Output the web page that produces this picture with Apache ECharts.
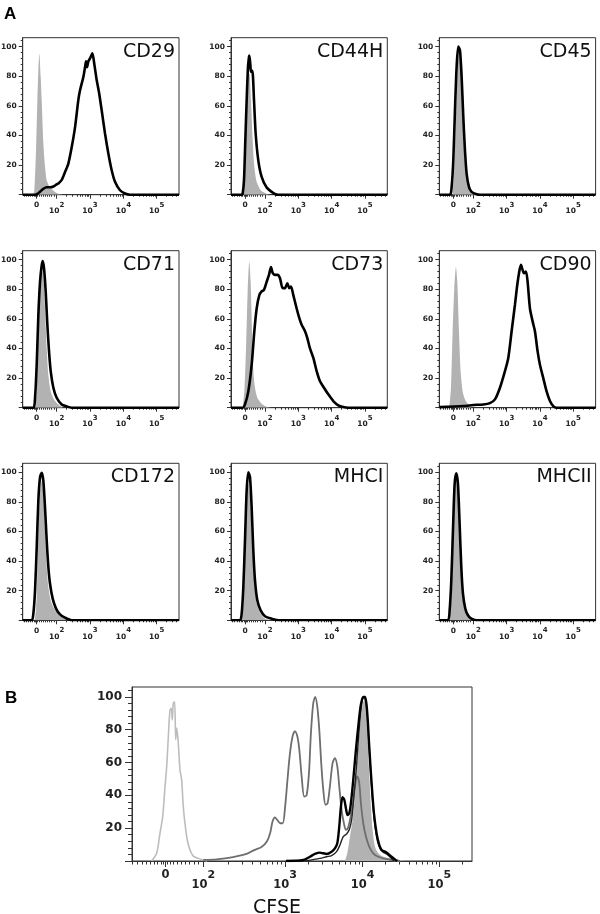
<!DOCTYPE html>
<html><head><meta charset="utf-8">
<script src="https://cdn.jsdelivr.net/npm/echarts@6/dist/echarts.min.js"></script>
<style>html,body{margin:0;padding:0;background:#fff}#c{width:600px;height:914px}</style>
</head><body><div id="c"></div>
<script>
// ---------- labels / ticks ----------
const panelNames = ['CD29', 'CD44H', 'CD45', 'CD71', 'CD73', 'CD90', 'CD172', 'MHCI', 'MHCII'];
const xTickLabels = ['0', '10^2', '10^3', '10^4', '10^5'];
const yTickLabels = [20, 40, 60, 80, 100];
// x positions are in display (decade) units of the biexponential axis
const xTickPosA = [1.4, 2, 3, 4, 5];
const xTickPosB = [1.52, 2, 3.04, 4.025, 5];
const xRangeA = [0.98, 5.67];
const xRangeB = [1.094, 5.415];
const yMax = 106;

// ---------- panel A data: [display position, % of max] ----------
const controlCD29 = [[1.30,0],[1.33,3],[1.38,30],[1.42,64],[1.45,84],[1.48,95.4],[1.52,79.6],[1.55,63.9],[1.60,34.6],[1.65,18.8],[1.70,9.8],[1.80,4.8],[1.95,1.9],[2.10,0.3],[2.20,0]];
const stainCD29 = [[0.98,0],[1.35,0],[1.45,1],[1.50,2],[1.60,4],[1.70,5],[1.80,5],[1.90,5.5],[2.00,7],[2.05,7.5],[2.15,10],[2.20,12.5],[2.30,18],[2.35,21],[2.45,32],[2.55,45.5],[2.65,64],[2.70,70.5],[2.80,79.5],[2.85,86],[2.88,90],[2.91,86],[2.95,90],[3.00,92],[3.07,95.4],[3.13,88],[3.20,77.4],[3.27,69],[3.35,57],[3.45,41.3],[3.55,27.8],[3.65,16.5],[3.75,8.7],[3.90,3],[4.05,0.8],[4.20,0],[5.67,0]];
const controlCD44H = [[1.33,0],[1.38,23],[1.43,57],[1.48,79.6],[1.53,82],[1.58,63.9],[1.63,36.9],[1.68,18.9],[1.75,8.8],[1.88,2.9],[2.05,0.7],[2.15,0]];
const stainCD44H = [[0.98,0],[1.30,0],[1.33,0.8],[1.37,9.8],[1.41,37],[1.45,63.9],[1.49,86.4],[1.52,93],[1.53,94],[1.56,88],[1.58,83],[1.62,83.6],[1.67,63.9],[1.72,41.3],[1.80,23],[1.90,12],[2.05,4.8],[2.20,1.9],[2.30,0.5],[2.40,0],[5.67,0]];
const controlCD45 = [[1.38,0],[1.42,14.3],[1.47,45.6],[1.52,79.6],[1.57,96.3],[1.62,88.3],[1.67,63.9],[1.72,34.6],[1.77,16.5],[1.85,5.3],[1.95,1.2],[2.05,0]];
const stainCD45 = [[0.98,0],[1.30,0],[1.35,5.3],[1.40,23.3],[1.45,57],[1.50,86.4],[1.55,100],[1.60,97.6],[1.65,79.6],[1.70,52.6],[1.75,30],[1.80,14.3],[1.87,5.3],[1.95,1.9],[2.10,0.3],[2.20,0],[5.67,0]];
const controlCD71 = [[1.35,0],[1.40,11],[1.45,51.6],[1.50,78.5],[1.56,92],[1.60,89.7],[1.65,67],[1.70,40],[1.75,22],[1.82,11],[1.92,5.6],[2.05,2.2],[2.20,0]];
const stainCD71 = [[0.98,0],[1.30,0],[1.35,6.7],[1.40,29],[1.45,62.8],[1.50,85],[1.55,96],[1.58,99],[1.62,94],[1.67,78.5],[1.72,56],[1.77,38],[1.82,24.7],[1.90,13.5],[2.00,6.7],[2.15,2.2],[2.30,0.9],[2.45,0],[5.67,0]];
const controlCD73 = [[1.33,0],[1.38,11],[1.43,40],[1.48,78.5],[1.53,98.7],[1.57,85],[1.61,51.6],[1.65,24.7],[1.70,13.5],[1.77,6.7],[1.90,2.7],[2.05,0.7],[2.20,0]];
const stainCD73 = [[0.98,0],[1.33,0],[1.40,2.2],[1.50,11],[1.60,29],[1.68,51.6],[1.75,67],[1.83,76],[1.90,78.5],[1.97,79.6],[2.05,85],[2.12,89.7],[2.18,95],[2.23,91],[2.30,89.7],[2.38,89.7],[2.45,87.4],[2.53,80.7],[2.60,80.7],[2.67,84],[2.73,80.7],[2.78,81.8],[2.85,76],[2.95,67],[3.03,60.5],[3.10,56],[3.20,51.6],[3.27,47],[3.35,40],[3.45,33.6],[3.55,24.7],[3.65,17.9],[3.77,13.5],[3.90,9],[4.05,4.5],[4.20,1.6],[4.35,0.4],[4.50,0],[5.67,0]];
const controlCD90 = [[1.28,0],[1.33,13.5],[1.38,51.6],[1.43,80.7],[1.48,95],[1.52,85],[1.57,51.6],[1.62,24.7],[1.68,11],[1.75,5.6],[1.85,2.2],[1.95,0]];
const stainCD90 = [[0.98,0.4],[1.70,1.1],[2.00,1.8],[2.30,2.2],[2.50,3.1],[2.65,5.6],[2.80,13.5],[2.95,24.7],[3.05,33.6],[3.15,51.6],[3.25,69.5],[3.32,83],[3.38,92],[3.43,96.4],[3.48,93],[3.52,90.8],[3.58,92],[3.63,85],[3.70,67],[3.78,58.3],[3.85,51.6],[3.93,38],[4.00,29],[4.10,20],[4.20,11],[4.30,4.5],[4.40,1.1],[4.50,0],[5.67,0]];
const controlCD172 = [[1.35,0],[1.40,15.7],[1.45,58.4],[1.50,85.4],[1.55,94],[1.60,85.4],[1.65,60.7],[1.70,36],[1.75,22.5],[1.82,13.5],[1.92,7.9],[2.05,4],[2.25,1.1],[2.40,0]];
const stainCD172 = [[0.98,0],[1.25,0],[1.30,4.5],[1.35,20],[1.40,49],[1.45,81],[1.50,96.6],[1.55,99.6],[1.60,94],[1.65,76],[1.70,54],[1.75,36],[1.80,24.7],[1.88,14.6],[1.98,7.9],[2.10,4],[2.25,1.8],[2.45,0],[5.67,0]];
const controlMHCI = [[1.30,0],[1.35,11.2],[1.40,42.7],[1.45,76],[1.50,92],[1.55,85.4],[1.60,60.7],[1.65,36],[1.70,20],[1.77,10],[1.87,4.5],[2.00,1.1],[2.15,0]];
const stainMHCI = [[0.98,0],[1.25,0],[1.30,4.5],[1.35,22.5],[1.40,54],[1.45,87.6],[1.50,100],[1.55,96.6],[1.60,76],[1.65,47],[1.70,27],[1.77,13.5],[1.87,6.7],[2.00,2.7],[2.20,1.1],[2.45,0],[5.67,0]];
const controlMHCII = [[1.29,0],[1.34,13.5],[1.39,47],[1.44,83],[1.49,94.4],[1.54,85.4],[1.59,56],[1.64,29],[1.69,13.5],[1.76,5.6],[1.84,2.2],[1.94,0]];
const stainMHCII = [[0.98,0],[1.24,0],[1.29,6.7],[1.34,27],[1.39,60.7],[1.44,92],[1.49,99.3],[1.54,92],[1.59,65],[1.64,36],[1.69,18],[1.76,7.9],[1.84,3.4],[1.94,1.1],[2.09,0],[5.67,0]];

// ---------- panel B data (CFSE) ----------
const cfseDay0 = [[1.344,0],[1.407,4.7],[1.45,17],[1.484,27],[1.513,45],[1.535,57.6],[1.556,76],[1.577,92],[1.594,93],[1.606,86],[1.619,96],[1.636,97],[1.649,74],[1.662,81],[1.679,74],[1.704,55.6],[1.725,49.5],[1.746,33],[1.772,21],[1.797,12.8],[1.831,6.7],[1.873,3],[1.937,1.6],[2.0,0.6],[2.05,0]];
const cfseStimulated = [[2.00,0.6],[2.17,1],[2.38,2.4],[2.55,4.3],[2.64,6.5],[2.74,8.5],[2.81,12],[2.85,17],[2.88,24],[2.91,26.5],[2.94,25],[2.98,23],[3.01,23],[3.04,33],[3.07,49.5],[3.10,65],[3.135,76],[3.165,79],[3.195,76],[3.22,68],[3.25,51.5],[3.283,39.3],[3.313,40],[3.343,53.5],[3.368,78],[3.398,96.3],[3.423,100],[3.449,94],[3.474,80],[3.499,59.6],[3.525,43.4],[3.554,34.2],[3.58,35.2],[3.609,45.4],[3.643,59.6],[3.673,62.7],[3.703,57.6],[3.728,45.4],[3.758,31],[3.787,23],[3.813,19],[3.838,20],[3.864,25],[3.897,33],[3.927,45.4],[3.957,51.5],[3.982,47.4],[4.003,35.2],[4.033,23],[4.067,14.9],[4.109,8.8],[4.16,4.7],[4.224,2.6],[4.308,1.4],[4.393,0.6],[4.5,0]];
const cfseCoculture1 = [[3.05,0],[3.271,0.6],[3.355,2.6],[3.419,4.3],[3.482,5.1],[3.525,4.7],[3.567,4.3],[3.631,5.7],[3.673,7.7],[3.703,10.8],[3.728,21],[3.749,33],[3.77,38.9],[3.792,37.3],[3.813,32],[3.834,28],[3.855,29],[3.876,35.2],[3.906,49.5],[3.94,67.8],[3.974,84],[4.003,95.3],[4.033,100],[4.058,100],[4.084,90],[4.109,69.8],[4.139,47.4],[4.169,29],[4.202,17],[4.236,9.8],[4.266,6.7],[4.308,5.7],[4.351,4.3],[4.393,2.6],[4.435,1],[4.465,0]];
const cfseCoculture2 = [[3.30,0],[3.482,1.6],[3.567,2.6],[3.631,3.3],[3.694,5.7],[3.737,9.8],[3.779,14.9],[3.821,16.5],[3.855,19],[3.885,25],[3.906,35.2],[3.94,53.5],[3.974,76],[4.003,92],[4.033,99.3],[4.058,98.3],[4.084,88],[4.109,67.8],[4.139,45.4],[4.169,27],[4.202,14.9],[4.236,8.8],[4.279,5.7],[4.329,4.3],[4.38,2.2],[4.423,0]];
const cfseUnstimulated = [[3.80,0],[3.83,4.7],[3.864,14.9],[3.897,25],[3.927,41.3],[3.957,61.7],[3.991,82],[4.02,94.3],[4.046,98.3],[4.067,92],[4.088,76],[4.109,53.5],[4.13,33.2],[4.152,19],[4.181,8.8],[4.224,4.7],[4.287,2.6],[4.372,1.6],[4.499,0.6],[4.562,0]];

const controls = [controlCD29, controlCD44H, controlCD45, controlCD71, controlCD73, controlCD90, controlCD172, controlMHCI, controlMHCII];
const stains = [stainCD29, stainCD44H, stainCD45, stainCD71, stainCD73, stainCD90, stainCD172, stainMHCI, stainMHCII];

// ---------- layout ----------
const FONT = 'DejaVu Sans';
const AXIS_COLOR = '#333';
const colLeft = [22.7, 231, 439.3];
const rowTop = [37.7, 250.7, 463.3];
const cellW = 156.3, cellH = 157;
const gridB = { left: 132, top: 687, width: 340, height: 174 };

function minorXTicks(pos, range) {
  const res = [];
  const span = pos[1] - pos[0];
  for (let i = 1; i <= 9; i++) {
    const f = Math.pow(i / 10, 1.3) * span;
    res.push(pos[0] + f);
    if (pos[0] - f > range[0]) res.push(pos[0] - f);
  }
  for (let k = 1; k < pos.length - 1; k++) {
    for (let m = 2; m <= 9; m++) res.push(pos[k] + Math.log10(m) * (pos[k + 1] - pos[k]));
  }
  const last = pos[pos.length - 1], w = last - pos[pos.length - 2];
  for (let m = 2; m <= 9; m++) { const v = last + Math.log10(m) * w; if (v < range[1]) res.push(v); }
  return res;
}
const minorY = [];
for (let v = 4; v <= 104; v += 4) if (v % 20 !== 0) minorY.push(v);

function labelFor(pos) {
  return function (value) {
    let best = 0;
    for (let i = 1; i < pos.length; i++) if (Math.abs(pos[i] - value) < Math.abs(pos[best] - value)) best = i;
    const t = xTickLabels[best];
    if (t.indexOf('^') < 0) return '{z|' + t + '}';
    const p = t.split('^');
    return '{b|' + p[0] + '}{s|' + p[1] + '}';
  };
}

const grid = [], xAxis = [], yAxis = [], series = [], graphic = [];

function addPanel(rect, pos, range, big) {
  const gi = grid.length;
  grid.push(Object.assign({ show: true, borderColor: AXIS_COLOR, borderWidth: 1, backgroundColor: '#fff', outerBoundsMode: 'none', containLabel: false }, rect));
  const fs = big ? 11.5 : 7.5;
  const supFs = big ? 11 : 7;
  const gap = big ? 10 : 6;
  const lab = { fontFamily: FONT, fontWeight: 'bold', color: '#222' };
  xAxis.push({
    type: 'value', gridIndex: gi, min: range[0], max: range[1], position: 'bottom',
    splitLine: { show: false },
    axisLine: { show: true, onZero: false, lineStyle: { color: AXIS_COLOR, width: 1 } },
    axisTick: { show: true, customValues: pos, length: big ? 6 : 4, lineStyle: { color: AXIS_COLOR } },
    axisLabel: {
      show: true, customValues: pos, margin: big ? 13 : 9, formatter: labelFor(pos), color: '#222',
      rich: {
        z: Object.assign({ fontSize: fs, lineHeight: fs + 1, padding: [0, 0, gap, 0] }, lab),
        b: Object.assign({ fontSize: fs, lineHeight: fs + 1, padding: [gap, 0, 0, 0] }, lab),
        s: Object.assign({ fontSize: supFs, lineHeight: supFs + 1, padding: [0, 0, gap + fs - supFs, 0] }, lab)
      }
    }
  });
  xAxis.push({
    type: 'value', gridIndex: gi, min: range[0], max: range[1], position: 'bottom',
    splitLine: { show: false }, axisLine: { show: false, onZero: false }, axisLabel: { show: false },
    axisTick: { show: true, customValues: minorXTicks(pos, range), length: big ? 3.5 : 2, lineStyle: { color: AXIS_COLOR } }
  });
  yAxis.push({
    type: 'value', gridIndex: gi, min: 0, max: yMax, position: 'left',
    splitLine: { show: false },
    axisLine: { show: true, onZero: false, lineStyle: { color: AXIS_COLOR, width: 1 } },
    axisTick: { show: true, customValues: [0].concat(yTickLabels), length: big ? 7 : 4, lineStyle: { color: AXIS_COLOR } },
    axisLabel: Object.assign({ show: true, customValues: yTickLabels, margin: big ? 10 : 6, fontSize: big ? 12 : 7.5 }, lab)
  });
  yAxis.push({
    type: 'value', gridIndex: gi, min: 0, max: yMax, position: 'left',
    splitLine: { show: false }, axisLine: { show: false, onZero: false }, axisLabel: { show: false },
    axisTick: { show: true, customValues: minorY, length: big ? 4 : 2, lineStyle: { color: AXIS_COLOR } }
  });
  return { x: 2 * gi, y: 2 * gi };
}

function lineSeries(ax, data, color, width, fill, smooth) {
  return {
    type: 'line', xAxisIndex: ax.x, yAxisIndex: ax.y, data: data, symbol: 'none', smooth: smooth,
    silent: true, animation: false,
    lineStyle: { color: color, width: fill ? 0 : width },
    areaStyle: fill ? { color: color, opacity: 1 } : undefined
  };
}

for (let i = 0; i < 9; i++) {
  const r = Math.floor(i / 3), c = i % 3;
  const rect = { left: colLeft[c], top: rowTop[r], width: cellW, height: cellH };
  const ax = addPanel(rect, xTickPosA, xRangeA, false);
  series.push(lineSeries(ax, controls[i], '#b2b2b2', 0, true, 0.25));
  series.push(lineSeries(ax, stains[i], '#000', 2.6, false, 0.25));
  graphic.push({
    type: 'text', x: colLeft[c] + cellW - 4, y: rowTop[r] + 4.5, silent: true,
    style: { text: panelNames[i], fontFamily: FONT, fontSize: 19, fill: '#111', align: 'right', verticalAlign: 'top' }
  });
}

const axB = addPanel(gridB, xTickPosB, xRangeB, true);
series.push(lineSeries(axB, cfseUnstimulated, '#b2b2b2', 0, true, 0.3));
series.push(lineSeries(axB, cfseDay0, '#bdbdbd', 1.6, false, 0.3));
series.push(lineSeries(axB, cfseStimulated, '#6e6e6e', 1.8, false, 0.3));
series.push(lineSeries(axB, cfseCoculture2, '#222', 1.4, false, 0.3));
series.push(lineSeries(axB, cfseCoculture1, '#000', 2.4, false, 0.3));

graphic.push({ type: 'text', x: 4, y: 6, silent: true, style: { text: 'A', fontFamily: 'Liberation Sans', fontWeight: 'bold', fontSize: 17, fill: '#000', align: 'left', verticalAlign: 'top' } });
graphic.push({ type: 'text', x: 5, y: 690, silent: true, style: { text: 'B', fontFamily: 'Liberation Sans', fontWeight: 'bold', fontSize: 17, fill: '#000', align: 'left', verticalAlign: 'top' } });
graphic.push({ type: 'text', x: 277, y: 899, silent: true, style: { text: 'CFSE', fontFamily: FONT, fontSize: 19, fill: '#111', align: 'center', verticalAlign: 'top' } });

const chart = echarts.init(document.getElementById('c'), null, { renderer: 'canvas' });
chart.setOption({ animation: false, backgroundColor: '#fff', grid, xAxis, yAxis, series, graphic });
</script>
</body></html>
